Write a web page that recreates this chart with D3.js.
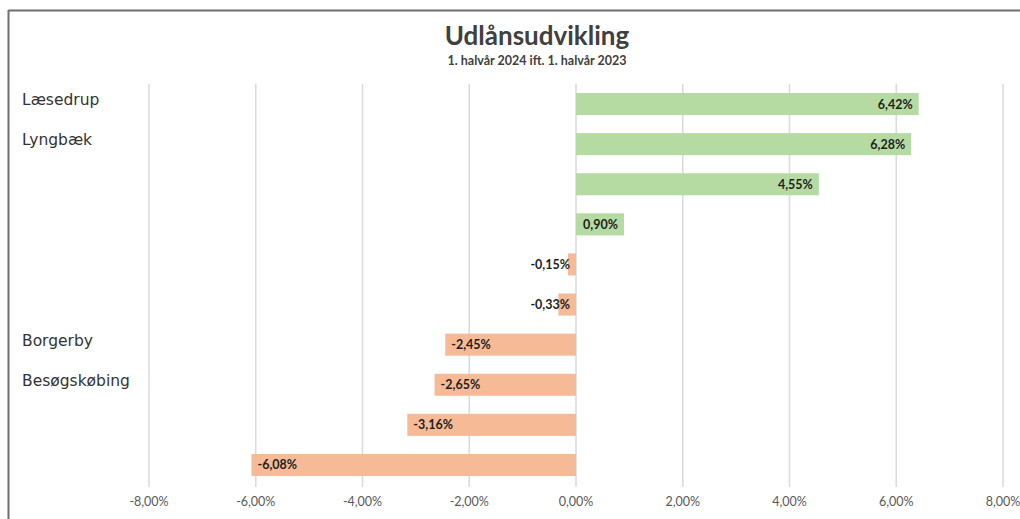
<!DOCTYPE html>
<html>
<head>
<meta charset="utf-8">
<script src="https://cdn.jsdelivr.net/npm/d3@7"></script>
<style>
  body { margin: 0; background: #fff; }
  svg { display: block; }
</style>
</head>
<body>
<svg id="chart" width="1020" height="519"></svg>
<script>
// data
const categories = ["Læsedrup", "Lyngbæk", "", "", "", "", "Borgerby", "Besøgskøbing", "", ""];
const values = [6.42, 6.28, 4.55, 0.90, -0.15, -0.33, -2.45, -2.65, -3.16, -6.08];
const tickValues = [-8, -6, -4, -2, 0, 2, 4, 6, 8];
const title = "Udlånsudvikling";
const subtitle = "1. halvår 2024 ift. 1. halvår 2023";

const svg = d3.select("#chart");

// frame (top + left edge of the scanned box)
svg.append("line").attr("x1", 8.5).attr("x2", 1020).attr("y1", 10.5).attr("y2", 10.5)
  .attr("stroke", "#6e6e6e").attr("stroke-width", 2);
svg.append("line").attr("x1", 8.5).attr("x2", 8.5).attr("y1", 10).attr("y2", 519)
  .attr("stroke", "#6e6e6e").attr("stroke-width", 2);

const x = d3.scaleLinear().domain([-8, 8]).range([149, 1003]);
const y = d3.scaleBand()
  .domain(d3.range(values.length))
  .range([84, 485])
  .paddingInner(0.45)
  .paddingOuter(0.225);

const fmt = (v) => v.toFixed(2).replace(".", ",") + "%";

// gridlines
svg.append("g")
  .selectAll("line")
  .data(tickValues)
  .join("line")
  .attr("x1", (d) => x(d))
  .attr("x2", (d) => x(d))
  .attr("y1", 84)
  .attr("y2", 487)
  .attr("stroke", "#dadada")
  .attr("stroke-width", 1.5);

// tick labels
svg.append("g")
  .selectAll("text")
  .data(tickValues)
  .join("text")
  .attr("x", (d) => x(d))
  .attr("y", 506)
  .attr("text-anchor", "middle")
  .attr("font-family", "Lato, 'Open Sans', sans-serif")
  .attr("font-size", 12.5)
  .attr("fill", "#595959")
  .text((d) => fmt(d));

// bars
svg.append("g")
  .selectAll("rect")
  .data(values)
  .join("rect")
  .attr("x", (d) => x(Math.min(0, d)))
  .attr("y", (d, i) => y(i))
  .attr("width", (d) => Math.abs(x(d) - x(0)))
  .attr("height", y.bandwidth())
  .attr("fill", (d) => (d >= 0 ? "#b5dba2" : "#f6ba96"));

// value labels
const labelW = 38;
svg.append("g")
  .selectAll("text")
  .data(values)
  .join("text")
  .attr("y", (d, i) => y(i) + y.bandwidth() / 2 + 4.5)
  .attr("x", (d) => {
    if (d >= 0) return x(d) - 6;
    const w = x(0) - x(d);
    return w < labelW + 12 ? x(0) - 6 : x(d) + 6;
  })
  .attr("text-anchor", (d) => {
    if (d >= 0) return "end";
    const w = x(0) - x(d);
    return w < labelW + 12 ? "end" : "start";
  })
  .attr("font-family", "Lato, 'Open Sans', sans-serif")
  .attr("font-weight", "bold")
  .attr("font-size", 12.5)
  .attr("fill", "#1e1e1e")
  .text((d) => fmt(d));

// category labels
svg.append("g")
  .selectAll("text")
  .data(categories)
  .join("text")
  .attr("x", 22)
  .attr("y", (d, i) => y(i) + y.bandwidth() / 2 + 1)
  .attr("font-family", "'DejaVu Sans', Verdana, sans-serif")
  .attr("font-size", 15.5)
  .attr("fill", "#333")
  .text((d) => d);

// titles
svg.append("text")
  .attr("x", 537)
  .attr("y", 45)
  .attr("text-anchor", "middle")
  .attr("font-family", "Lato, 'Open Sans', sans-serif")
  .attr("font-weight", "bold")
  .attr("font-size", 26)
  .attr("fill", "#404040")
  .text(title);

svg.append("text")
  .attr("x", 537)
  .attr("y", 65)
  .attr("text-anchor", "middle")
  .attr("font-family", "Lato, 'Open Sans', sans-serif")
  .attr("font-weight", "bold")
  .attr("font-size", 12.5)
  .attr("fill", "#404040")
  .text(subtitle);
</script>
</body>
</html>
